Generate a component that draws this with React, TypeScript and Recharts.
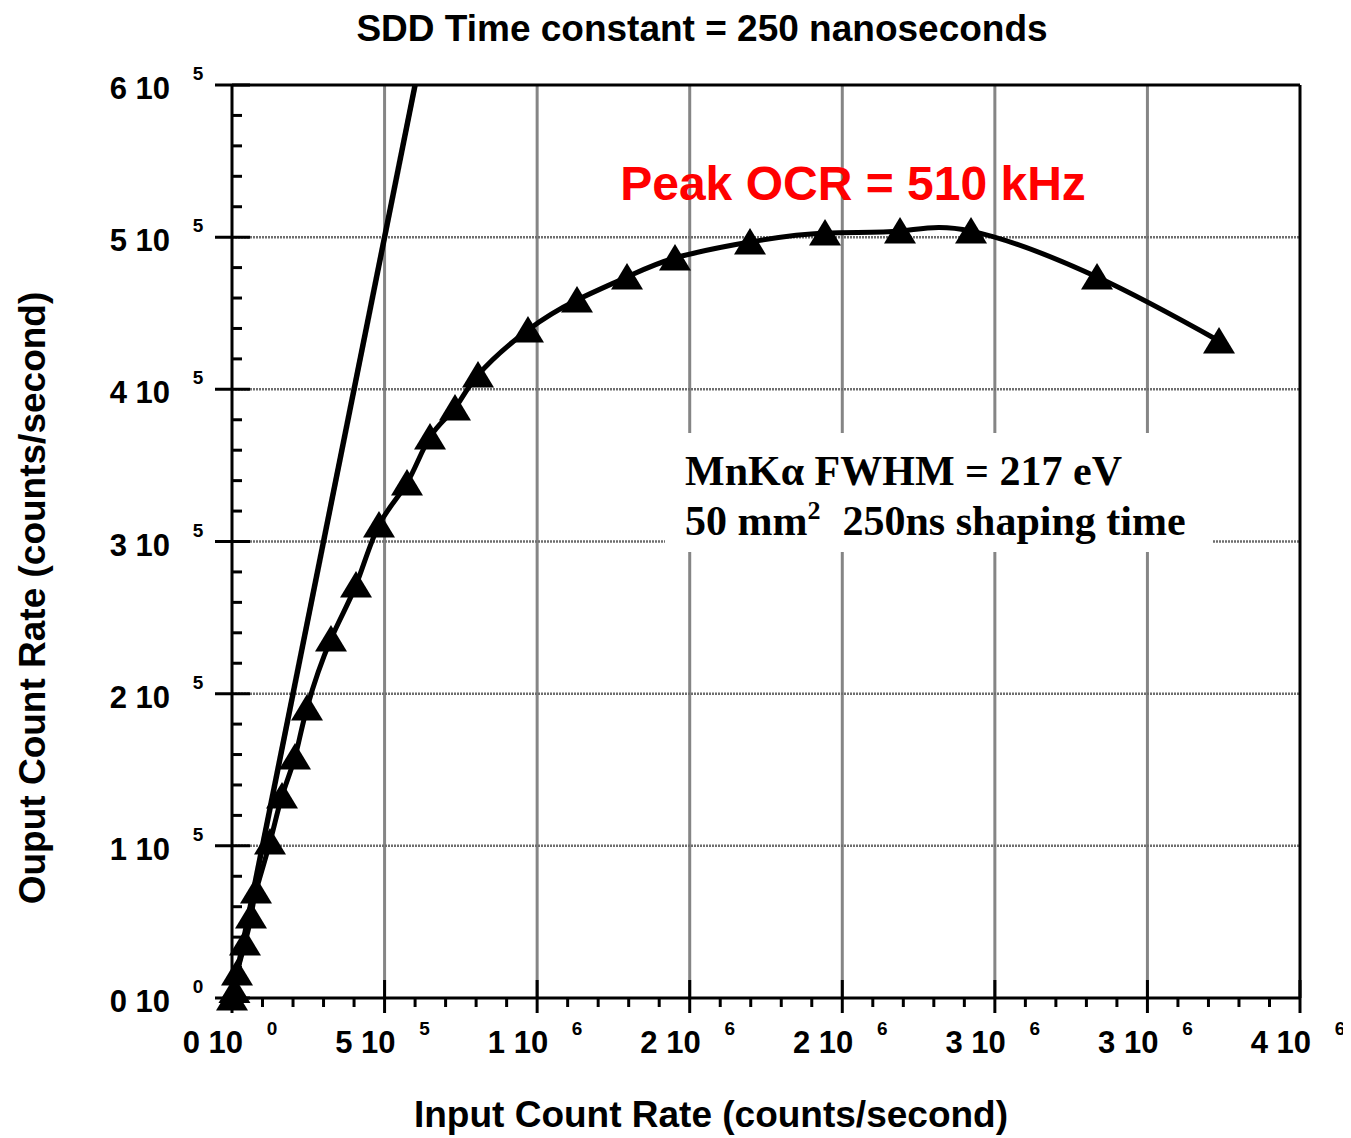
import React from 'react';
import { ComposedChart, Line, XAxis, YAxis, CartesianGrid } from 'recharts';

// Measured input count rate (counts/second)
const inputRate = [0, 8000, 16400, 42600, 62300, 78700, 124500, 163900, 206500, 245800, 324400, 406400, 481700, 573500, 648900, 730800, 806200, 970000, 1130600, 1294500, 1451800, 1697600, 1943400, 2189200, 2421900, 2834800, 3234600];
// Measured output count rate (counts/second)
const outputRate = [0, 5000, 16400, 36100, 53900, 70300, 102500, 132700, 158400, 190600, 235900, 271400, 310800, 338400, 368700, 387700, 409400, 439000, 458700, 473800, 486300, 496800, 502700, 504000, 504000, 473800, 431800];
// Ideal OCR = ICR line
const idealInput = [0, 600000];
const idealOutput = [0, 600000];

// Major tick values and labels
const xMajor = [0, 500000, 1000000, 1500000, 2000000, 2500000, 3000000, 3500000];
const xMantissa = ['0', '5', '1', '2', '2', '3', '3', '4'];
const xExponent = ['0', '5', '6', '6', '6', '6', '6', '6'];
const yMajor = [0, 100000, 200000, 300000, 400000, 500000, 600000];
const yMantissa = ['0', '1', '2', '3', '4', '5', '6'];
const yExponent = ['0', '5', '5', '5', '5', '5', '5'];
const xMinorPerMajor = 5;
const yMinorPerMajor = 5;
const xGridValues = [500000, 1000000, 1500000, 2000000, 2500000, 3000000];
const yGridValues = [100000, 200000, 300000, 400000, 500000];

const subdivide = (majors: number[], n: number) => {
  const out: number[] = [];
  for (let i = 0; i < majors.length - 1; i++) {
    const step = (majors[i + 1] - majors[i]) / n;
    for (let k = 0; k < n; k++) out.push(Math.round(majors[i] + k * step));
  }
  out.push(majors[majors.length - 1]);
  return out;
};
const xTicks = subdivide(xMajor, xMinorPerMajor);
const yTicks = subdivide(yMajor, yMinorPerMajor);

const curveData = inputRate.map((x, i) => ({ x, y: outputRate[i] }));
const idealData = idealInput.map((x, i) => ({ x, y: idealOutput[i] }));

const SANS = '"Liberation Sans", Arial, Helvetica, sans-serif';
const SERIF = '"Liberation Serif", "Times New Roman", serif';
const TW = 3;

const majorIndex = (arr: number[], v: number) => arr.findIndex((m) => Math.abs(m - v) < 1);

const BottomTick = (p: any) => {
  const { x, y, payload } = p;
  const mi = majorIndex(xMajor, payload.value);
  if (mi < 0) return <line x1={x} x2={x} y1={y} y2={y + 9} stroke="#000" strokeWidth={TW} />;
  return (
    <g>
      <line x1={x} x2={x} y1={y - 18} y2={y + 15} stroke="#000" strokeWidth={TW} />
      <text x={x + 11} y={y + 55} textAnchor="end" fontFamily={SANS} fontWeight="bold" fontSize={31} fill="#000">
        {xMantissa[mi] + ' 10'}
      </text>
      <text x={x + 40} y={y + 37} textAnchor="middle" fontFamily={SANS} fontWeight="bold" fontSize={19} fill="#000">
        {xExponent[mi]}
      </text>
    </g>
  );
};

const TopTick = (p: any) => {
  const { x, y, payload } = p;
  const mi = majorIndex(xMajor, payload.value);
  if (mi < 0) return <line x1={x} x2={x} y1={y - 10} y2={y} stroke="#000" strokeWidth={TW} />;
  return <line x1={x} x2={x} y1={y - 17} y2={y + 17} stroke="#000" strokeWidth={TW} />;
};

const LeftTick = (p: any) => {
  const { x, y, payload } = p;
  const mi = majorIndex(yMajor, payload.value);
  if (mi < 0) return <line x1={x} x2={x + 10} y1={y} y2={y} stroke="#000" strokeWidth={TW} />;
  return (
    <g>
      <line x1={x - 17} x2={x + 18} y1={y} y2={y} stroke="#000" strokeWidth={TW} />
      <text x={x - 62} y={y + 14} textAnchor="end" fontFamily={SANS} fontWeight="bold" fontSize={31} fill="#000">
        {yMantissa[mi] + ' 10'}
      </text>
      <text x={x - 34} y={y - 5} textAnchor="middle" fontFamily={SANS} fontWeight="bold" fontSize={19} fill="#000">
        {yExponent[mi]}
      </text>
    </g>
  );
};

const RightTick = (p: any) => {
  const { x, y, payload } = p;
  const mi = majorIndex(yMajor, payload.value);
  if (mi < 0) return <line x1={x - 10} x2={x} y1={y} y2={y} stroke="#000" strokeWidth={TW} />;
  return <line x1={x - 17} x2={x + 17} y1={y} y2={y} stroke="#000" strokeWidth={TW} />;
};

const TriangleDot = (p: any) => {
  const { cx, cy, index } = p;
  if (cx == null || cy == null) return <g key={`n${index}`} />;
  return (
    <path
      key={`t${index}`}
      d={`M${cx},${cy - 14} L${cx + 16},${cy + 12.5} L${cx - 16},${cy + 12.5} Z`}
      fill="#000"
    />
  );
};

const W = 1343;
const H = 1130;
const axisLine = { stroke: '#000', strokeWidth: 3 };

export default function App() {
  return (
    <div style={{ position: 'relative', width: W, height: H }}>
      <ComposedChart width={W} height={H} margin={{ top: 57, right: 31, bottom: 0, left: 0 }}>
        <CartesianGrid
          xAxisId="b"
          yAxisId="l"
          horizontal={false}
          vertical={true}
          verticalValues={xGridValues}
          stroke="#858585"
          strokeWidth={3}
        />
        <CartesianGrid
          xAxisId="b"
          yAxisId="l"
          horizontal={true}
          vertical={false}
          horizontalValues={yGridValues}
          stroke="#6e6e6e"
          strokeWidth={2.5}
          strokeDasharray="2 1"
        />
        <XAxis
          xAxisId="b"
          dataKey="x"
          type="number"
          domain={[0, 3500000]}
          ticks={xTicks}
          interval={0}
          height={140}
          tickSize={0}
          tickMargin={0}
          tickLine={false}
          axisLine={axisLine}
          tick={BottomTick}
        />
        <XAxis
          xAxisId="t"
          orientation="top"
          type="number"
          domain={[0, 3500000]}
          ticks={xTicks}
          interval={0}
          height={20}
          tickSize={0}
          tickMargin={0}
          tickLine={false}
          axisLine={axisLine}
          tick={TopTick}
        />
        <YAxis
          yAxisId="l"
          type="number"
          domain={[0, 600000]}
          ticks={yTicks}
          interval={0}
          width={224}
          tickSize={0}
          tickMargin={0}
          tickLine={false}
          axisLine={axisLine}
          tick={LeftTick}
        />
        <YAxis
          yAxisId="r"
          orientation="right"
          type="number"
          domain={[0, 600000]}
          ticks={yTicks}
          interval={0}
          width={20}
          tickSize={0}
          tickMargin={0}
          tickLine={false}
          axisLine={axisLine}
          tick={RightTick}
        />
        <Line
          xAxisId="b"
          yAxisId="l"
          data={idealData}
          dataKey="y"
          type="linear"
          stroke="#000"
          strokeWidth={5.5}
          dot={false}
          activeDot={false}
          isAnimationActive={false}
        />
        <Line
          xAxisId="b"
          yAxisId="l"
          data={curveData}
          dataKey="y"
          type="natural"
          stroke="#000"
          strokeWidth={5}
          dot={TriangleDot}
          activeDot={false}
          isAnimationActive={false}
        />
      </ComposedChart>
      <svg
        width={W}
        height={H}
        style={{ position: 'absolute', left: 0, top: 0, pointerEvents: 'none' }}
      >
        <text x={694} y={33} textAnchor="middle" fontFamily={SANS} fontWeight="bold" fontSize={37} fill="#000">
          SDD Time constant = 250 nanoseconds
        </text>
        <text x={703} y={1119} textAnchor="middle" fontFamily={SANS} fontWeight="bold" fontSize={37} fill="#000">
          Input Count Rate (counts/second)
        </text>
        <text
          transform="translate(37, 590) rotate(-90)"
          textAnchor="middle"
          fontFamily={SANS}
          fontWeight="bold"
          fontSize={37}
          fill="#000"
        >
          Ouput Count Rate (counts/second)
        </text>
        <text x={845} y={192} textAnchor="middle" fontFamily={SANS} fontWeight="bold" fontSize={48} fill="#ff0000">
          Peak OCR = 510 kHz
        </text>
        <rect x={657} y={425} width={548} height={119} fill="#fff" />
        <text x={677} y={477} fontFamily={SERIF} fontWeight="bold" fontSize={42} fill="#000">
          MnKα FWHM = 217 eV
        </text>
        <text x={677} y={527} fontFamily={SERIF} fontWeight="bold" fontSize={42} fill="#000">
          50 mm
          <tspan fontSize={26} dy={-16}>2</tspan>
          <tspan dx={22} dy={16}>250ns shaping time</tspan>
        </text>
      </svg>
    </div>
  );
}
